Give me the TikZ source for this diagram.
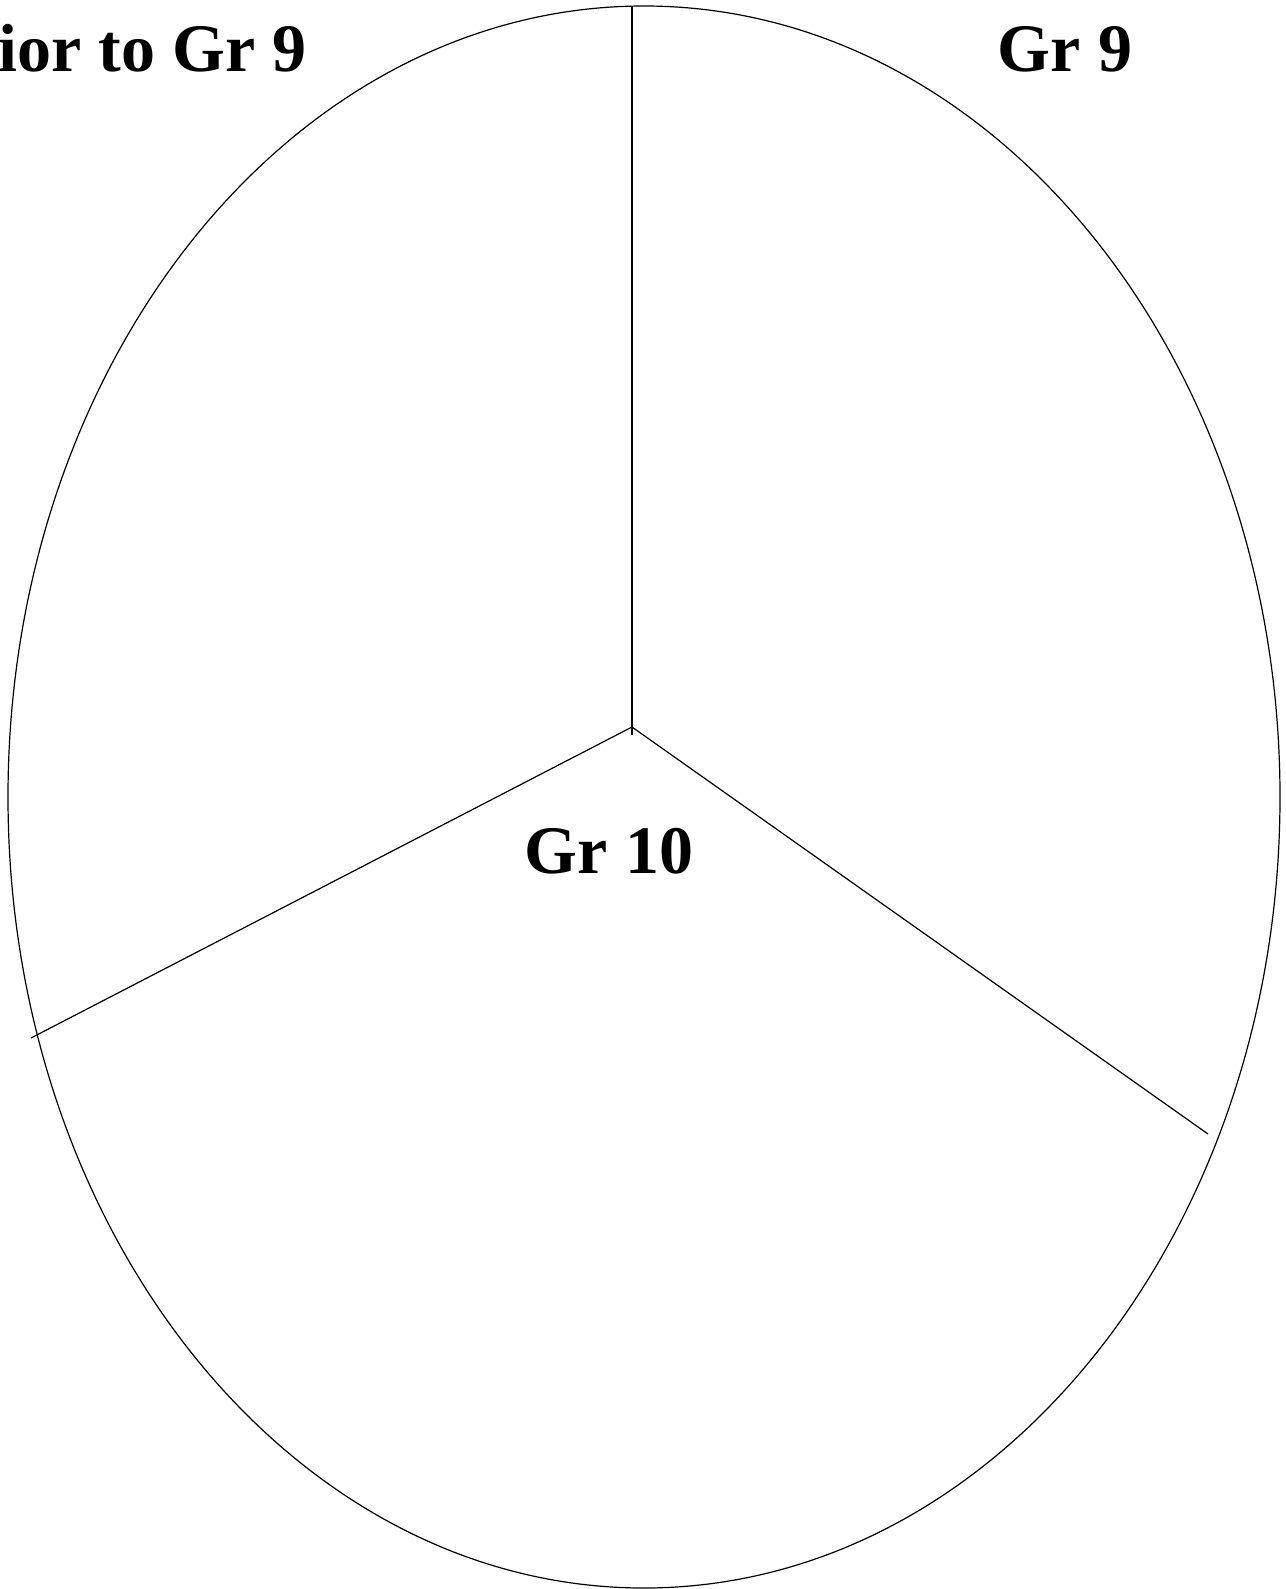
\documentclass[tikz,border=0pt]{standalone}
\usepackage{fontspec}
\setmainfont{Liberation Serif}
\usepackage{tikz}
\usetikzlibrary{positioning}

\begin{document}
\begin{tikzpicture}[x=0.5pt, y=-0.5pt,
  rim/.style={draw=black, line width=0.6pt},
  spoke/.style={draw=black, line width=0.6pt},
  lbl/.style={font=\fontsize{34}{40}\selectfont\bfseries, inner sep=0pt}]
\useasboundingbox (0,0) rectangle (1285,1589);
\draw[rim] (644,797) ellipse [x radius=318pt, y radius=395.5pt];
\coordinate (hub) at (632,727);
\coordinate (top) at (632,6);
\coordinate (tail) at (632,735);
\coordinate (lend) at (31,1038);
\coordinate (rend) at (1208,1134);
\draw[spoke] (top) -- (tail);
\draw[spoke] (hub) -- (lend);
\draw[spoke] (hub) -- (rend);
\node[lbl, anchor=base east] (prior) at (307,72) {ior to Gr 9};
\node[lbl, anchor=base] (nine) at (1065,72) {Gr 9};
\node[lbl, anchor=base] (ten) at (609,873) {Gr 10};
\end{tikzpicture}
\end{document}
